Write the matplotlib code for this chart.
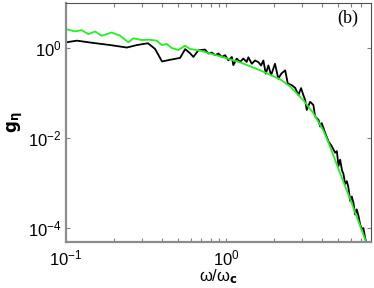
import math
import matplotlib
matplotlib.use("Agg")
import matplotlib.pyplot as plt
from matplotlib.ticker import FixedLocator, FuncFormatter, NullFormatter

plt.rcParams['font.family'] = ['Liberation Sans', 'DejaVu Sans']
plt.rcParams['mathtext.default'] = 'regular'

# black curve (measured spectrum)
w_black = [0.100, 0.117, 0.148, 0.188, 0.240, 0.278, 0.325, 0.360, 0.398, 0.447,
           0.516, 0.555, 0.596, 0.625, 0.671, 0.739, 0.775, 0.814, 0.854, 0.896,
           0.940, 0.986, 1.033, 1.086, 1.110, 1.166, 1.223, 1.282, 1.346, 1.378,
           1.447, 1.518, 1.592, 1.655, 1.710, 1.770, 1.838, 1.910, 2.020, 2.120,
           2.220, 2.340, 2.430, 2.580, 2.700, 2.830, 2.940, 3.040, 3.120, 3.190,
           3.350, 3.510, 3.600, 3.780, 3.870, 3.960, 4.160, 4.360, 4.580, 4.800,
           4.920, 5.040, 5.160, 5.300, 5.410, 5.540, 5.680, 5.810, 5.960, 6.100,
           6.250, 6.400, 6.550, 6.710, 6.880, 7.050, 7.210, 7.390, 7.500]
g_black = [1.33, 1.45, 1.29, 1.16, 1.02, 1.16, 1.27, 0.95, 0.50, 0.545,
           0.60, 0.94, 0.76, 0.63, 0.885, 0.92, 0.75, 0.79, 0.69, 0.75,
           0.63, 0.69, 0.53, 0.63, 0.415, 0.58, 0.49, 0.58, 0.49, 0.62,
           0.445, 0.526, 0.483, 0.408, 0.526, 0.268, 0.408, 0.246, 0.445, 0.208,
           0.272, 0.317, 0.162, 0.148, 0.13, 0.0895, 0.128, 0.0895, 0.0695, 0.042,
           0.0637, 0.054, 0.030, 0.0252, 0.018, 0.0214, 0.0129, 0.0084, 0.0065, 0.0047,
           0.0051, 0.0024, 0.0033, 0.0019, 0.0016, 0.00095, 0.0011, 0.0008, 4.0e-4, 5.0e-4,
           3.6e-4, 2.0e-4, 2.6e-4, 1.9e-4, 1.2e-4, 9.5e-5, 1.0e-4, 6.0e-5, 5.0e-5]

# green curve (model)
w_green = [0.100, 0.114, 0.125, 0.138, 0.152, 0.167, 0.193, 0.218, 0.245, 0.263,
           0.297, 0.331, 0.368, 0.396, 0.426, 0.458, 0.503, 0.554, 0.595, 0.688,
           0.917, 1.22, 1.63, 2.18, 2.51, 3.04, 3.51, 4.06, 4.34, 5.16,
           5.96, 6.88, 7.44]
g_green = [2.62, 2.32, 2.48, 2.03, 2.32, 1.86, 2.20, 1.86, 1.33, 1.63,
           1.50, 1.52, 1.45, 1.16, 1.22, 1.00, 0.90, 1.12, 0.95, 0.87,
           0.65, 0.48, 0.32, 0.20, 0.14, 0.069, 0.0355, 0.0145, 0.0083, 0.00164,
           4.4e-4, 1.12e-4, 5.3e-5]

fig = plt.figure(figsize=(3.74, 2.88), dpi=100)
ax = fig.add_axes([0.1765, 0.161, 0.8145, 0.829])

ax.plot(w_black, g_black, color='black', lw=1.3)
ax.plot(w_green, g_green, color='#22ee22', lw=1.3)

ax.set_xscale('log')
ax.set_yscale('log')
ax.set_xlim(0.1, 8)
ax.set_ylim(5e-5, 10)

ax.yaxis.set_major_locator(FixedLocator([1e-4, 1e-2, 1e0]))
ax.yaxis.set_minor_locator(FixedLocator([]))
ax.xaxis.set_major_locator(FixedLocator([0.1, 1.0]))
ax.xaxis.set_minor_locator(FixedLocator([0.2, 0.3, 0.4, 0.5, 0.6, 0.7, 0.8, 0.9,
                                         2, 3, 4, 5, 6, 7]))
ax.xaxis.set_minor_formatter(NullFormatter())
fmt = FuncFormatter(lambda v, p: r'$10^{%d}$' % round(math.log10(v)))
ax.xaxis.set_major_formatter(fmt)
ax.yaxis.set_major_formatter(fmt)

ax.tick_params(which='both', direction='in', top=True, right=True,
               color='#808080', labelsize=12, length=3, width=0.8)
ax.tick_params(axis='x', pad=5)
ax.tick_params(axis='y', pad=3)

for s in ['left', 'bottom']:
    ax.spines[s].set_color('#8c8c8c')
    ax.spines[s].set_linewidth(1.6)
for s in ['top', 'right']:
    ax.spines[s].set_color('#505050')
    ax.spines[s].set_linewidth(0.8)

ax.set_xlabel(r'$\omega/\omega_{\mathbf{c}}$', fontsize=12, labelpad=-1)
ax.set_ylabel(r'$\mathbf{g}_{\mathbf{\eta}}$', fontsize=12, labelpad=2)

ax.text(0.925, 0.935, '(b)', transform=ax.transAxes, ha='center', va='center',
        fontsize=13, family='Liberation Serif')

fig.savefig('out.png', dpi=100)
